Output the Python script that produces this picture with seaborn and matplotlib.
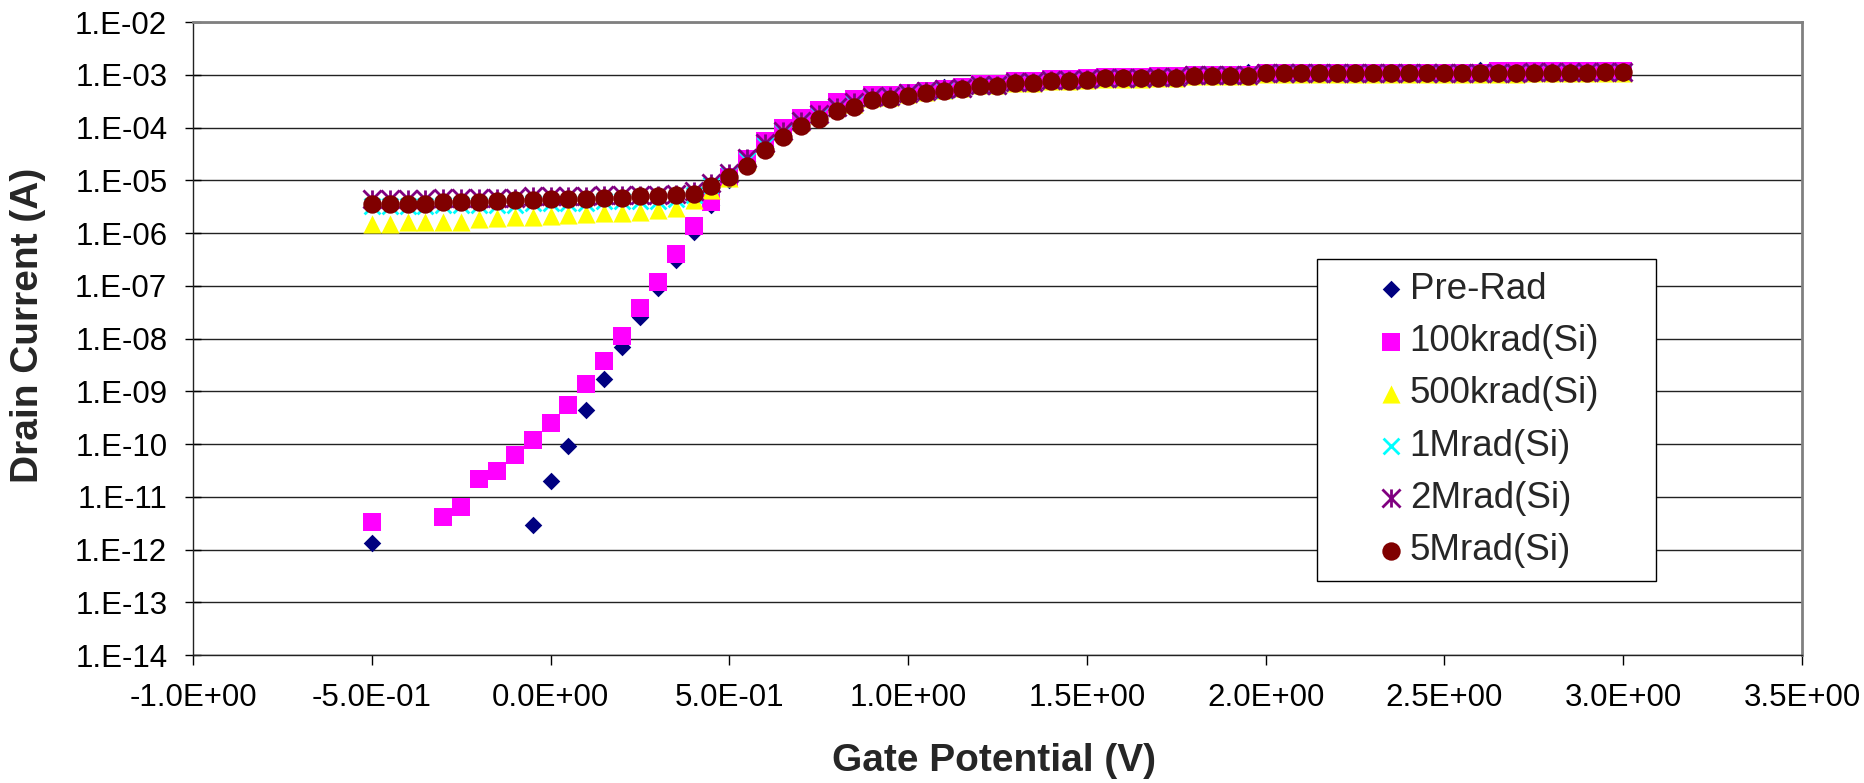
import numpy as np
import pandas as pd
import matplotlib
matplotlib.use("Agg")
import matplotlib.pyplot as plt
from matplotlib.path import Path
from matplotlib.ticker import FixedLocator, FixedFormatter, NullLocator
import seaborn as sns

# --- data (gate sweep every 0.05 V) ---
gate_v = [-0.50, -0.45, -0.40, -0.35, -0.30, -0.25, -0.20, -0.15, -0.10, -0.05,
          0.00, 0.05, 0.10, 0.15, 0.20, 0.25, 0.30, 0.35, 0.40, 0.45,
          0.50, 0.55, 0.60, 0.65, 0.70, 0.75, 0.80, 0.85, 0.90, 0.95,
          1.00, 1.05, 1.10, 1.15, 1.20, 1.25, 1.30, 1.35, 1.40, 1.45,
          1.50, 1.55, 1.60, 1.65, 1.70, 1.75, 1.80, 1.85, 1.90, 1.95,
          2.00, 2.05, 2.10, 2.15, 2.20, 2.25, 2.30, 2.35, 2.40, 2.45,
          2.50, 2.55, 2.60, 2.65, 2.70, 2.75, 2.80, 2.85, 2.90, 2.95,
          3.00]

nan = np.nan

pre_rad = [1.35e-12, nan, nan, nan, nan, nan, nan, nan, nan, 2.9e-12,
           1.95e-11, 9.3e-11, 4.4e-10, 1.7e-9, 7.0e-9, 2.6e-8, 8.9e-8, 3.1e-7, 1.05e-6, 3.4e-6,
           1.0e-5, 2.3e-5, 4.5e-5, 8.0e-5, 1.25e-4, 1.7e-4, 2.4e-4, 2.9e-4, 3.7e-4, 3.9e-4,
           4.4e-4, 4.8e-4, 5.8e-4, 5.6e-4, 6.4e-4, 6.4e-4, 7.1e-4, 7.1e-4, 7.9e-4, 7.9e-4,
           8.1e-4, 8.7e-4, 8.7e-4, 8.7e-4, 9.0e-4, 9.0e-4, 9.7e-4, 9.7e-4, 9.7e-4, 1.12e-3,
           1.07e-3, 1.07e-3, 1.07e-3, 1.07e-3, 1.07e-3, 1.07e-3, 1.07e-3, 1.07e-3, 1.07e-3, 1.07e-3,
           1.07e-3, 1.07e-3, 1.22e-3, 1.10e-3, 1.10e-3, 1.10e-3, 1.10e-3, 1.10e-3, 1.12e-3, 1.14e-3,
           1.14e-3]

krad100 = [3.3e-12, nan, nan, nan, 4.2e-12, 6.5e-12, 2.2e-11, 3.1e-11, 6.1e-11, 1.2e-10,
           2.5e-10, 5.6e-10, 1.35e-9, 3.7e-9, 1.13e-8, 3.8e-8, 1.17e-7, 3.96e-7, 1.35e-6, 3.9e-6,
           1.15e-5, 2.5e-5, 5.5e-5, 9.7e-5, 1.52e-4, 2.15e-4, 3.0e-4, 3.4e-4, 4.1e-4, 4.2e-4,
           4.6e-4, 5.0e-4, 5.4e-4, 5.8e-4, 6.7e-4, 6.7e-4, 7.5e-4, 7.5e-4, 8.3e-4, 8.3e-4,
           8.5e-4, 9.0e-4, 9.0e-4, 9.0e-4, 9.3e-4, 9.3e-4, 1.0e-3, 1.0e-3, 1.0e-3, 1.0e-3,
           1.08e-3, 1.08e-3, 1.08e-3, 1.08e-3, 1.08e-3, 1.08e-3, 1.08e-3, 1.08e-3, 1.08e-3, 1.08e-3,
           1.08e-3, 1.08e-3, 1.08e-3, 1.2e-3, 1.2e-3, 1.2e-3, 1.2e-3, 1.2e-3, 1.2e-3, 1.2e-3,
           1.2e-3]

krad500 = [1.48e-6, 1.48e-6, 1.64e-6, 1.64e-6, 1.64e-6, 1.64e-6, 1.82e-6, 1.9e-6, 2.04e-6, 2.04e-6,
           2.1e-6, 2.19e-6, 2.29e-6, 2.43e-6, 2.43e-6, 2.54e-6, 2.73e-6, 2.95e-6, 4.2e-6, 6.5e-6,
           1.1e-5, 2.3e-5, 4.6e-5, 8.2e-5, 1.26e-4, 1.72e-4, 2.4e-4, 2.85e-4, 3.6e-4, 3.8e-4,
           4.3e-4, 4.7e-4, 5.2e-4, 5.6e-4, 6.3e-4, 6.3e-4, 7.0e-4, 7.0e-4, 7.7e-4, 7.7e-4,
           7.9e-4, 8.3e-4, 8.3e-4, 8.3e-4, 8.6e-4, 8.6e-4, 9.3e-4, 9.3e-4, 9.3e-4, 9.3e-4,
           1.03e-3, 1.03e-3, 1.03e-3, 1.03e-3, 1.03e-3, 1.03e-3, 1.03e-3, 1.03e-3, 1.03e-3, 1.03e-3,
           1.03e-3, 1.03e-3, 1.03e-3, 1.03e-3, 1.03e-3, 1.06e-3, 1.06e-3, 1.06e-3, 1.06e-3, 1.1e-3,
           1.1e-3]

mrad1 = [3.2e-6, 3.2e-6, 3.2e-6, 3.2e-6, 3.4e-6, 3.4e-6, 3.4e-6, 3.4e-6, 3.4e-6, 3.7e-6,
         3.7e-6, 3.7e-6, 3.7e-6, 4.0e-6, 4.0e-6, 4.0e-6, 4.0e-6, 4.5e-6, 5.2e-6, 8.0e-6,
         1.3e-5, 2.4e-5, 4.7e-5, 8.3e-5, 1.3e-4, 1.75e-4, 2.45e-4, 2.95e-4, 3.75e-4, 3.95e-4,
         4.45e-4, 4.85e-4, 5.25e-4, 5.65e-4, 6.45e-4, 6.45e-4, 7.15e-4, 7.15e-4, 7.95e-4, 7.95e-4,
         8.15e-4, 8.75e-4, 8.75e-4, 8.75e-4, 9.05e-4, 9.05e-4, 9.75e-4, 9.75e-4, 9.75e-4, 9.75e-4,
         1.08e-3, 1.08e-3, 1.08e-3, 1.08e-3, 1.08e-3, 1.08e-3, 1.08e-3, 1.08e-3, 1.08e-3, 1.08e-3,
         1.08e-3, 1.08e-3, 1.08e-3, 1.08e-3, 1.08e-3, 1.11e-3, 1.11e-3, 1.11e-3, 1.11e-3, 1.14e-3,
         1.14e-3]

mrad2 = [4.5e-6, 4.5e-6, 4.5e-6, 4.5e-6, 4.7e-6, 4.7e-6, 4.7e-6, 4.7e-6, 4.7e-6, 5.0e-6,
         5.0e-6, 5.0e-6, 5.0e-6, 5.3e-6, 5.3e-6, 5.3e-6, 5.3e-6, 5.6e-6, 6.3e-6, 9.0e-6,
         1.4e-5, 2.6e-5, 5.0e-5, 8.7e-5, 1.35e-4, 1.8e-4, 2.5e-4, 3.0e-4, 3.8e-4, 4.0e-4,
         4.5e-4, 4.9e-4, 5.3e-4, 5.7e-4, 6.5e-4, 6.5e-4, 7.2e-4, 7.2e-4, 8.0e-4, 8.0e-4,
         8.2e-4, 8.8e-4, 8.8e-4, 8.8e-4, 9.1e-4, 9.1e-4, 9.8e-4, 9.8e-4, 9.8e-4, 9.8e-4,
         1.09e-3, 1.09e-3, 1.09e-3, 1.09e-3, 1.09e-3, 1.09e-3, 1.09e-3, 1.09e-3, 1.09e-3, 1.09e-3,
         1.09e-3, 1.09e-3, 1.09e-3, 1.09e-3, 1.09e-3, 1.12e-3, 1.12e-3, 1.12e-3, 1.12e-3, 1.15e-3,
         1.15e-3]

mrad5 = [3.6e-6, 3.6e-6, 3.6e-6, 3.6e-6, 3.8e-6, 3.9e-6, 3.9e-6, 4.0e-6, 4.2e-6, 4.2e-6,
         4.4e-6, 4.5e-6, 4.5e-6, 4.6e-6, 4.6e-6, 5.0e-6, 5.0e-6, 5.2e-6, 5.6e-6, 7.9e-6,
         1.15e-5, 1.9e-5, 3.8e-5, 6.7e-5, 1.05e-4, 1.44e-4, 2.05e-4, 2.5e-4, 3.3e-4, 3.5e-4,
         4.0e-4, 4.45e-4, 4.9e-4, 5.3e-4, 6.1e-4, 6.1e-4, 6.9e-4, 6.9e-4, 7.7e-4, 7.7e-4,
         7.9e-4, 8.5e-4, 8.5e-4, 8.5e-4, 8.8e-4, 8.8e-4, 9.5e-4, 9.5e-4, 9.5e-4, 9.5e-4,
         1.06e-3, 1.06e-3, 1.06e-3, 1.06e-3, 1.06e-3, 1.06e-3, 1.06e-3, 1.06e-3, 1.06e-3, 1.06e-3,
         1.06e-3, 1.06e-3, 1.06e-3, 1.06e-3, 1.06e-3, 1.09e-3, 1.09e-3, 1.09e-3, 1.09e-3, 1.12e-3,
         1.12e-3]

series_names = ["Pre-Rad", "100krad(Si)", "500krad(Si)", "1Mrad(Si)", "2Mrad(Si)", "5Mrad(Si)"]
series_values = [pre_rad, krad100, krad500, mrad1, mrad2, mrad5]

x_ticks = [-1.0, -0.5, 0.0, 0.5, 1.0, 1.5, 2.0, 2.5, 3.0, 3.5]
x_tick_labels = ["-1.0E+00", "-5.0E-01", "0.0E+00", "5.0E-01", "1.0E+00",
                 "1.5E+00", "2.0E+00", "2.5E+00", "3.0E+00", "3.5E+00"]
y_ticks = [1e-2, 1e-3, 1e-4, 1e-5, 1e-6, 1e-7, 1e-8, 1e-9, 1e-10, 1e-11, 1e-12, 1e-13, 1e-14]
y_tick_labels = ["1.E-02", "1.E-03", "1.E-04", "1.E-05", "1.E-06", "1.E-07", "1.E-08",
                 "1.E-09", "1.E-10", "1.E-11", "1.E-12", "1.E-13", "1.E-14"]

# long-form table for seaborn
df = pd.DataFrame({"Gate": np.tile(gate_v, len(series_names)),
                   "Current": np.concatenate(series_values),
                   "Dose": np.repeat(series_names, len(gate_v))})

# --- styling ---
sns.set_theme(style="white")
plt.rcParams["font.family"] = ["Liberation Sans", "DejaVu Sans"]

# excel style asterisk: an x with a vertical bar
star = Path([(-0.5, -0.5), (0.5, 0.5), (-0.5, 0.5), (0.5, -0.5), (0, -0.5), (0, 0.5)],
            [Path.MOVETO, Path.LINETO] * 3)

styles = {
    "Pre-Rad":     dict(marker="D", color="#000080", s=80, linewidth=0),
    "100krad(Si)": dict(marker="s", color="#FF00FF", s=150, linewidth=0),
    "500krad(Si)": dict(marker="^", color="#FFFF00", s=170, linewidth=0),
    "1Mrad(Si)":   dict(marker="x", color="#00FFFF", s=130, linewidth=2),
    "2Mrad(Si)":   dict(marker=star, color="#800080", edgecolor="#800080", s=170, linewidth=2),
    "5Mrad(Si)":   dict(marker="o", color="#800000", s=175, linewidth=0),
}

fig = plt.figure(figsize=(18.65, 7.83), dpi=100)
ax = fig.add_axes([193 / 1865, 1 - 655 / 783, 1609 / 1865, 633 / 783])

for name in series_names:
    sub = df[df["Dose"] == name].dropna()
    sns.scatterplot(data=sub, x="Gate", y="Current", ax=ax, label=name, **styles[name])

ax.set_yscale("log")
ax.set_xlim(-1.0, 3.5)
ax.set_ylim(1e-14, 1e-2)

ax.xaxis.set_major_locator(FixedLocator(x_ticks))
ax.xaxis.set_major_formatter(FixedFormatter(x_tick_labels))
ax.yaxis.set_major_locator(FixedLocator(y_ticks))
ax.yaxis.set_major_formatter(FixedFormatter(y_tick_labels))
ax.yaxis.set_minor_locator(NullLocator())
ax.xaxis.set_minor_locator(NullLocator())

ax.grid(axis="y", color="#222222", linewidth=1.0)
ax.grid(axis="x", visible=False)
ax.set_axisbelow(True)

ax.tick_params(axis="y", direction="inout", length=12, width=1, pad=12.5,
               labelsize=22.5, colors="black", left=True)
ax.tick_params(axis="x", direction="out", length=7.5, width=1, pad=12.5,
               labelsize=22.5, colors="black", bottom=True)

for side in ["left", "bottom"]:
    ax.spines[side].set_color("#222222")
    ax.spines[side].set_linewidth(1.0)
for side in ["top", "right"]:
    ax.spines[side].set_color("#808080")
    ax.spines[side].set_linewidth(2.0)

ax.set_xlabel("Gate Potential (V)", fontsize=28, fontweight="bold", va="center")
ax.set_ylabel("Drain Current (A)", fontsize=28, fontweight="bold", va="center")
ax.xaxis.set_label_coords(0.498, -0.167)
ax.yaxis.set_label_coords(-0.1025, 0.52)

leg = ax.legend(loc="upper left",
                bbox_to_anchor=(1317 / 1865, (783 - 585) / 783, (1656 - 1317) / 1865, (585 - 259) / 783),
                bbox_transform=fig.transFigure, mode="expand", borderaxespad=0,
                fontsize=26.5, frameon=True, fancybox=False, shadow=False,
                borderpad=0.35, labelspacing=0.47, handlelength=3.3, handletextpad=-1.13,
                scatterpoints=1)
leg.get_frame().set_edgecolor("black")
leg.get_frame().set_linewidth(1.0)
leg.get_frame().set_alpha(1.0)

fig.savefig("out.png", dpi=100, facecolor="white")
